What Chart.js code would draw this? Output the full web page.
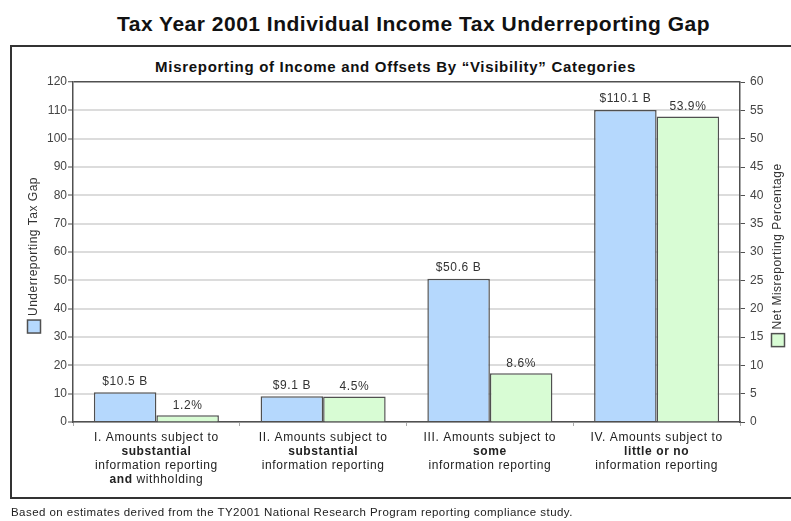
<!DOCTYPE html>
<html lang="en">
<head>
<meta charset="UTF-8">
<title>Tax Year 2001 Individual Income Tax Underreporting Gap</title>
<script src="https://cdn.jsdelivr.net/npm/chart.js"></script>
<style>
    body {
        margin: 0;
        padding: 0;
        background: #fff;
        font-family: 'Liberation Sans', Arial, sans-serif;
    }
    .page {
        position: relative;
        width: 791px;
        height: 521px;
        overflow: hidden;
    }
    .title {
        position: absolute;
        top: 12px;
        left: 18px;
        width: 791px;
        text-align: center;
        font-size: 21px;
        letter-spacing: 0.5px;
        font-weight: bold;
        color: #111;
    }
    .frame {
        position: absolute;
        left: 10px;
        top: 45px;
        width: 800px;
        height: 450px;
        border: 2.5px solid #333;
    }
    .subtitle {
        position: absolute;
        top: 58px;
        left: 0;
        width: 791px;
        text-align: center;
        font-size: 15px;
        letter-spacing: 0.7px;
        font-weight: bold;
        color: #111;
    }
    .footer {
        position: absolute;
        top: 506px;
        left: 11px;
        font-size: 11.5px;
        letter-spacing: 0.45px;
        color: #222;
    }
    .chart-box {
        position: absolute;
        left: 0;
        top: 0;
        width: 791px;
        height: 521px;
    }
</style>
</head>
<body>
<div class="page">
    <div class="title">Tax Year 2001 Individual Income Tax Underreporting Gap</div>
    <div class="frame"></div>
    <div class="subtitle">Misreporting of Income and Offsets By “Visibility” Categories</div>
    <div class="chart-box"><canvas id="gapChart"></canvas></div>
    <div class="footer">Based on estimates derived from the TY2001 National Research Program reporting compliance study.</div>
</div>

<script>
    // categories and their multi-line labels (**text** = bold)
    const categories = ['I', 'II', 'III', 'IV'];
    const categoryLines = [
        ['I. Amounts subject to', '**substantial**', 'information reporting', '**and** withholding'],
        ['II. Amounts subject to', '**substantial**', 'information reporting'],
        ['III. Amounts subject to', '**some**', 'information reporting'],
        ['IV. Amounts subject to', '**little or no**', 'information reporting']
    ];

    // underreporting tax gap, $ billions (left axis)
    const gapBillions = [10.5, 9.1, 50.6, 110.1];
    // net misreporting percentage (right axis)
    const netMisreportPct = [1.2, 4.5, 8.6, 53.9];

    const gapAxis = { min: 0, max: 120, step: 10 };
    const pctAxis = { min: 0, max: 60, step: 5 };

    const BLUE = '#b5d8fd';
    const GREEN = '#d8fcd4';
    const EDGE = '#505050';
    const FONT = "'Liberation Sans', Arial, sans-serif";

    function setFont(ctx, bold, size, spacing) {
        ctx.font = (bold ? 'bold ' : '') + size + 'px ' + FONT;
        if ('letterSpacing' in ctx) ctx.letterSpacing = spacing + 'px';
    }

    function drawRichLine(ctx, line, cx, y) {
        // split into plain / bold pieces
        const parts = line.split('**').map((t, i) => ({ text: t, bold: i % 2 === 1 })).filter(p => p.text);
        let total = 0;
        parts.forEach(p => {
            setFont(ctx, p.bold, 12, 0.6);
            p.w = ctx.measureText(p.text).width;
            total += p.w;
        });
        let x = cx - total / 2;
        parts.forEach(p => {
            setFont(ctx, p.bold, 12, 0.6);
            ctx.fillText(p.text, x, y);
            x += p.w;
        });
    }

    function drawAxisLegend(ctx, text, color, cx, cy) {
        ctx.save();
        ctx.translate(cx, cy);
        ctx.rotate(-Math.PI / 2);
        setFont(ctx, false, 12, 0.5);
        const box = 13, gap = 4;
        const tw = ctx.measureText(text).width;
        const start = -(box + gap + tw) / 2;
        ctx.fillStyle = color;
        ctx.fillRect(start, -box / 2, box, box);
        ctx.strokeStyle = EDGE;
        ctx.lineWidth = 1.5;
        ctx.strokeRect(start, -box / 2, box, box);
        ctx.fillStyle = '#333';
        ctx.textAlign = 'left';
        ctx.textBaseline = 'middle';
        ctx.fillText(text, start + box + gap, 0);
        ctx.restore();
    }

    const annotations = {
        id: 'annotations',
        afterDraw(chart) {
            const ctx = chart.ctx;
            const area = chart.chartArea;
            ctx.save();

            // value labels over bars
            ctx.fillStyle = '#333';
            ctx.textAlign = 'center';
            ctx.textBaseline = 'bottom';
            setFont(ctx, false, 12, 0.6);
            chart.getDatasetMeta(0).data.forEach((bar, i) => {
                ctx.fillText('$' + gapBillions[i].toFixed(1) + ' B', bar.x, bar.y - 5);
            });
            chart.getDatasetMeta(1).data.forEach((bar, i) => {
                ctx.fillText(netMisreportPct[i].toFixed(1) + '%', bar.x, bar.y - 4);
            });

            // category labels
            ctx.fillStyle = '#222';
            ctx.textAlign = 'left';
            ctx.textBaseline = 'middle';
            const xScale = chart.scales.x;
            categoryLines.forEach((lines, i) => {
                const cx = xScale.getPixelForValue(i);
                lines.forEach((line, k) => drawRichLine(ctx, line, cx, area.bottom + 16 + k * 14));
            });

            const midY = (area.top + area.bottom) / 2 + 3;
            drawAxisLegend(ctx, 'Underreporting Tax Gap', BLUE, 34, midY);
            drawAxisLegend(ctx, 'Net Misreporting Percentage', GREEN, 778, midY);
            ctx.restore();
        }
    };

    new Chart(document.getElementById('gapChart'), {
        type: 'bar',
        data: {
            labels: categories,
            datasets: [
                {
                    label: 'Underreporting Tax Gap',
                    data: gapBillions,
                    yAxisID: 'y',
                    backgroundColor: BLUE,
                    borderColor: EDGE,
                    borderWidth: 1.5
                },
                {
                    label: 'Net Misreporting Percentage',
                    data: netMisreportPct,
                    yAxisID: 'y2',
                    backgroundColor: GREEN,
                    borderColor: EDGE,
                    borderWidth: 1.5
                }
            ]
        },
        options: {
            responsive: true,
            maintainAspectRatio: false,
            animation: false,
            layout: { padding: { top: 82, left: 0, right: 0, bottom: 0 } },
            categoryPercentage: 0.75,
            barPercentage: 1.0,
            plugins: {
                legend: { display: false },
                tooltip: { enabled: false }
            },
            scales: {
                x: {
                    afterFit(scale) { scale.height = 99; },
                    ticks: { display: false },
                    grid: {
                        offset: true,
                        drawOnChartArea: false,
                        tickLength: 4,
                        color: '#aaa'
                    },
                    border: { color: EDGE, width: 1.5 }
                },
                y: {
                    position: 'left',
                    min: gapAxis.min,
                    max: gapAxis.max,
                    afterFit(scale) { scale.width = 73; },
                    ticks: {
                        stepSize: gapAxis.step,
                        padding: 1,
                        color: '#444',
                        font: { family: FONT, size: 12 }
                    },
                    grid: {
                        color: c => (c.tick && c.tick.value === gapAxis.max) ? EDGE : '#dcdcdc',
                        lineWidth: c => (c.tick && c.tick.value === gapAxis.max) ? 1.5 : 2,
                        tickColor: EDGE,
                        tickLength: 5,
                        tickWidth: 1
                    },
                    border: { color: EDGE, width: 1.5 }
                },
                y2: {
                    position: 'right',
                    min: pctAxis.min,
                    max: pctAxis.max,
                    afterFit(scale) { scale.width = 51; },
                    ticks: {
                        stepSize: pctAxis.step,
                        padding: 5,
                        color: '#444',
                        font: { family: FONT, size: 12 }
                    },
                    grid: {
                        drawOnChartArea: false,
                        tickColor: EDGE,
                        tickLength: 5,
                        tickWidth: 1
                    },
                    border: { color: EDGE, width: 1.5 }
                }
            }
        },
        plugins: [annotations]
    });
</script>
</body>
</html>
